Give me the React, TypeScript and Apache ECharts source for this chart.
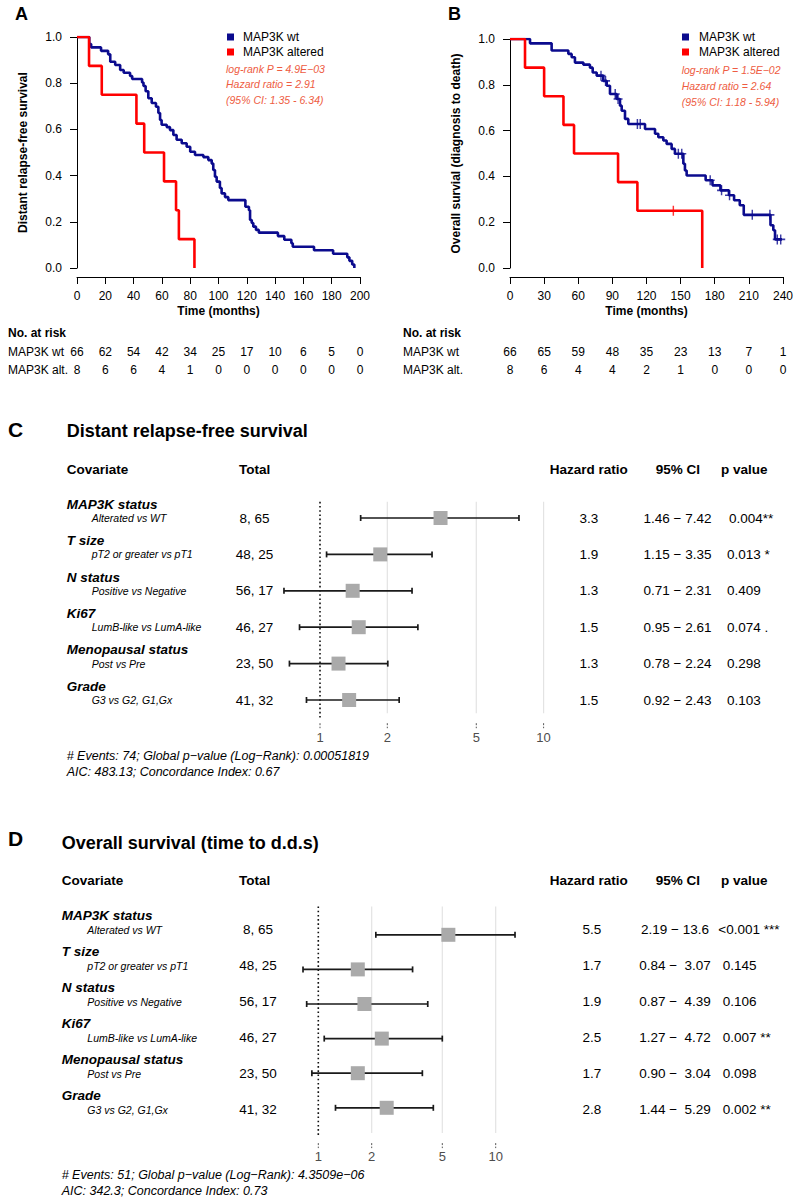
import React, { useEffect, useRef } from "react";
import * as echarts from "echarts";

const F = '"Liberation Sans", Arial, Helvetica, sans-serif';
const BLUE = "#0B0B8E";
const RED = "#FF0000";
const NOTE = "#EE5C42";

// ---------- Panel A: distant relapse-free survival (Kaplan-Meier steps: [month, survival]) ----------
const drfsWtSteps: [number, number][] = [
  [0, 1], [8.7, 0.97], [10, 0.955], [17, 0.94], [22, 0.925], [23.5, 0.893], [27, 0.879],
  [30.5, 0.857], [33, 0.845], [37.5, 0.831], [39, 0.818], [46, 0.803], [47, 0.788],
  [48.5, 0.765], [50.4, 0.735], [52.8, 0.714], [55.8, 0.698], [57.5, 0.671], [58.7, 0.641],
  [59.8, 0.62], [63.4, 0.61], [65.7, 0.597], [68.1, 0.576], [70.4, 0.555], [74, 0.54],
  [77.5, 0.525], [80, 0.503], [83.4, 0.489], [89.3, 0.48], [92.8, 0.467], [95.2, 0.452],
  [96.3, 0.424], [97.5, 0.395], [98.7, 0.374], [101, 0.346], [102.2, 0.323], [104.6, 0.307],
  [106.9, 0.294], [119, 0.265], [121.5, 0.25], [122.3, 0.208], [123.5, 0.195], [124.6, 0.179],
  [126.5, 0.165], [128.5, 0.153], [142, 0.138], [146.5, 0.122], [151.5, 0.107], [152.5, 0.092],
  [167.5, 0.077], [181, 0.062], [191, 0.046], [192.5, 0.031], [194.5, 0.015], [196, 0],
];
const drfsAltSteps: [number, number][] = [
  [0, 1], [8.5, 0.875], [17.5, 0.75], [42, 0.625], [47.5, 0.5], [61.5, 0.375], [70, 0.25], [72, 0.125], [83, 0],
];
const drfsTicks = [0, 20, 40, 60, 80, 100, 120, 140, 160, 180, 200];
const drfsRiskWt = [66, 62, 54, 42, 34, 25, 17, 10, 6, 5, 0];
const drfsRiskAlt = [8, 6, 6, 4, 1, 0, 0, 0, 0, 0, 0];

// ---------- Panel B: overall survival ----------
const osWtSteps: [number, number][] = [
  [0, 1], [17.6, 0.981], [36.6, 0.95], [51.3, 0.935], [54.2, 0.92], [57.1, 0.897], [64.5, 0.888],
  [70.3, 0.875], [72.7, 0.854], [76.2, 0.84], [82, 0.817], [85, 0.796], [87.9, 0.76],
  [93.8, 0.738], [96.7, 0.709], [98.2, 0.687], [101.1, 0.651], [104, 0.629], [118.7, 0.607],
  [127.5, 0.586], [130.4, 0.571], [134.8, 0.557], [137.7, 0.542], [142.1, 0.52], [145, 0.499],
  [152.4, 0.455], [153.8, 0.426], [155.3, 0.404], [172, 0.383], [178, 0.361], [185, 0.339],
  [192.5, 0.318], [197, 0.296], [202, 0.274], [205.5, 0.232], [229, 0.187], [231.5, 0.165],
  [233, 0.125], [239, 0.125],
];
const osAltSteps: [number, number][] = [
  [0, 1], [13.2, 0.875], [30, 0.75], [47, 0.625], [56.3, 0.5], [95, 0.375], [112, 0.25], [169, 0],
];
const osWtCensor = [80, 84, 92.5, 95, 112, 114.5, 148, 151, 176, 186, 193, 213, 228.5, 235, 238];
const osAltCensor = [143.6];
const osTicks = [0, 30, 60, 90, 120, 150, 180, 210, 240];
const osRiskWt = [66, 65, 59, 48, 35, 23, 13, 7, 1];
const osRiskAlt = [8, 6, 4, 4, 2, 1, 0, 0, 0];

// ---------- Forest plots ----------
const covariates = ["MAP3K status", "T size", "N status", "Ki67", "Menopausal status", "Grade"];
const contrasts = ["Alterated vs WT", "pT2 or greater vs pT1", "Positive vs Negative", "LumB-like vs LumA-like", "Post vs Pre", "G3 vs G2, G1,Gx"];
const totals = ["8, 65", "48, 25", "56, 17", "46, 27", "23, 50", "41, 32"];
const forestTicks = [1, 2, 5, 10];

const drfsHR = [3.46, 1.86, 1.4, 1.49, 1.21, 1.35];
const drfsLo = [1.52, 1.07, 0.69, 0.81, 0.73, 0.87];
const drfsHi = [7.76, 3.17, 2.58, 2.74, 2.01, 2.26];
const drfsHRText = ["3.3", "1.9", "1.3", "1.5", "1.3", "1.5"];
const drfsCIText = ["1.46 − 7.42", "1.15 − 3.35", "0.71 − 2.31", "0.95 − 2.61", "0.78 − 2.24", "0.92 − 2.43"];
const drfsPText = ["0.004**", "0.013 *", "0.409", "0.074 .", "0.298", "0.103"];

const osHR = [5.41, 1.67, 1.82, 2.28, 1.67, 2.43];
const osLo = [2.11, 0.82, 0.86, 1.08, 0.92, 1.25];
const osHi = [12.85, 3.4, 4.14, 5.0, 3.86, 4.45];
const osHRText = ["5.5", "1.7", "1.9", "2.5", "1.7", "2.8"];
const osCIText = ["2.19 − 13.6", "0.84 −  3.07", "0.87 −  4.39", "1.27 −  4.72", "0.90 −  3.04", "1.44 −  5.29"];
const osPText = ["<0.001 ***", "0.145", "0.106", "0.007 **", "0.098", "0.002 **"];

// ---------- helpers ----------
function survAt(steps: [number, number][], t: number) {
  let v = steps[0][1];
  for (const [x, s] of steps) if (x <= t) v = s;
  return v;
}

function txt(text: string, x: number, y: number, font: string, align = "left", fill = "#000") {
  return {
    type: "text", x, y, silent: true,
    style: { text, font, fill, textAlign: align, textVerticalAlign: "middle" },
  };
}

const PLUS = "path://M4.2,0H5.8V4.2H10V5.8H5.8V10H4.2V5.8H0V4.2H4.2Z";

function kmAxes(grid: number, max: number, interval: number, yName: string) {
  const lbl = { fontFamily: F, fontSize: 12, color: "#000" };
  return {
    x: {
      gridIndex: grid, type: "value", min: 0, max, interval, offset: 9,
      axisLine: { onZero: false, lineStyle: { color: "#000", width: 1 } },
      axisTick: { length: 7, lineStyle: { color: "#000" } },
      axisLabel: { ...lbl, margin: 13 },
      splitLine: { show: false },
      name: "Time (months)", nameLocation: "middle", nameGap: 28,
      nameTextStyle: { fontFamily: F, fontSize: 12, fontWeight: "bold", color: "#000" },
    },
    y: {
      gridIndex: grid, type: "value", min: 0, max: 1, interval: 0.2,
      axisLine: { show: true, lineStyle: { color: "#000", width: 1 } },
      axisTick: { show: true, length: 7, lineStyle: { color: "#000" } },
      axisLabel: { ...lbl, margin: 15, formatter: (v: number) => v.toFixed(1) },
      splitLine: { show: false },
      name: yName, nameLocation: "middle", nameGap: 48,
      nameTextStyle: { fontFamily: F, fontSize: 12, fontWeight: "bold", color: "#000" },
    },
  };
}

function riskSeries(axis: number, ticks: number[], wt: number[], alt: number[]) {
  const data: number[][] = [];
  ticks.forEach((t, i) => { data.push([t, 0, wt[i]]); data.push([t, 1, alt[i]]); });
  return {
    type: "custom", xAxisIndex: axis, yAxisIndex: axis, data, encode: { x: 0, y: 1 },
    renderItem: (_p: any, api: any) => {
      const c = api.coord([api.value(0), api.value(1)]);
      return {
        type: "text", x: c[0], y: c[1], silent: true,
        style: { text: String(api.value(2)), font: `12px ${F}`, fill: "#000", textAlign: "center", textVerticalAlign: "middle" },
      };
    },
  };
}

function forestSeries(axis: number, hr: number[], lo: number[], hi: number[], g: { gTop: number; gBot: number; dBot: number; tickTop: number; labelY: number }) {
  const gridLines = {
    type: "custom", xAxisIndex: axis, yAxisIndex: axis, z: 1,
    data: forestTicks.filter((t) => t !== 1).map((t) => [t, 0]), encode: { x: 0, y: 1 },
    renderItem: (p: any, api: any) => {
      const cs = p.coordSys;
      const x = api.coord([api.value(0), 0])[0];
      return { type: "line", silent: true, shape: { x1: x, y1: cs.y + g.gTop, x2: x, y2: cs.y + cs.height + g.gBot }, style: { stroke: "#E3E3E3", lineWidth: 1.2 } };
    },
  };
  const refLine = {
    type: "custom", xAxisIndex: axis, yAxisIndex: axis, z: 2,
    data: [[1, 0]], encode: { x: 0, y: 1 },
    renderItem: (p: any, api: any) => {
      const cs = p.coordSys;
      const x = api.coord([api.value(0), 0])[0];
      return { type: "line", silent: true, shape: { x1: x, y1: cs.y + g.gTop, x2: x, y2: cs.y + cs.height + g.dBot }, style: { stroke: "#111", lineWidth: 1.6, lineDash: [1.6, 2.6] } };
    },
  };
  const ticks = {
    type: "custom", xAxisIndex: axis, yAxisIndex: axis, z: 2,
    data: forestTicks.map((t) => [t, 0]), encode: { x: 0, y: 1 },
    renderItem: (p: any, api: any) => {
      const cs = p.coordSys;
      const x = api.coord([api.value(0), 0])[0];
      const b = cs.y + cs.height;
      return {
        type: "group", silent: true, children: [
          { type: "line", shape: { x1: x, y1: b + g.tickTop, x2: x, y2: b + g.tickTop + 5 }, style: { stroke: "#555", lineWidth: 1, lineDash: [2, 1.5] } },
          { type: "text", x, y: b + g.labelY, style: { text: String(api.value(0)), font: `13px ${F}`, fill: "#4D4D4D", textAlign: "center", textVerticalAlign: "middle" } },
        ],
      };
    },
  };
  const bars = {
    type: "custom", xAxisIndex: axis, yAxisIndex: axis, z: 3,
    data: hr.map((h, i) => [h, lo[i], hi[i], i]), encode: { x: [0, 1, 2], y: 3 },
    renderItem: (_p: any, api: any) => {
      const row = api.value(3);
      const m = api.coord([api.value(0), row]);
      const l = api.coord([api.value(1), row]);
      const h = api.coord([api.value(2), row]);
      const y = m[1];
      const st = { stroke: "#1A1A1A", lineWidth: 1.7 };
      return {
        type: "group", silent: true, children: [
          { type: "line", shape: { x1: l[0], y1: y, x2: h[0], y2: y }, style: st },
          { type: "line", shape: { x1: l[0], y1: y - 3, x2: l[0], y2: y + 3 }, style: st },
          { type: "line", shape: { x1: h[0], y1: y - 3, x2: h[0], y2: y + 3 }, style: st },
          { type: "rect", shape: { x: m[0] - 7, y: y - 7, width: 14, height: 14 }, style: { fill: "#AAAAAA" } },
        ],
      };
    },
  };
  return [gridLines, refLine, ticks, bars];
}

function forestTexts(o: {
  letterY: number; title: string; titleX: number; titleY: number; headY: number; labX: number; subX: number;
  groupY: number; subY: number; pitch: number; totX: number; valY: number; hrX: number; ciX: number; pX: number; pX0: number;
  hrText: string[]; ciText: string[]; pText: string[]; notes: string[]; noteY: number; letter: string;
}) {
  const els: any[] = [];
  els.push(txt(o.letter, 8, o.letterY, `bold 21px ${F}`));
  els.push(txt(o.title, o.titleX, o.titleY, `bold 18px ${F}`));
  const hf = `bold 13.5px ${F}`;
  els.push(txt("Covariate", o.labX, o.headY, hf));
  els.push(txt("Total", 239, o.headY, hf));
  els.push(txt("Hazard ratio", 549.7, o.headY, hf));
  els.push(txt("95% CI", 655.7, o.headY, hf));
  els.push(txt("p value", 721, o.headY, hf));
  covariates.forEach((c, i) => {
    els.push(txt(c, o.labX, o.groupY + o.pitch * i, `italic bold 13.5px ${F}`));
    els.push(txt(contrasts[i], o.subX, o.subY + o.pitch * i, `italic 10.5px ${F}`));
    const vy = o.valY + o.pitch * i;
    els.push(txt(totals[i], o.totX, vy, `13.5px ${F}`, "center"));
    els.push(txt(o.hrText[i], o.hrX, vy, `13.5px ${F}`, "center"));
    els.push(txt(o.ciText[i], o.ciX, vy, `13.5px ${F}`, "center"));
    els.push(txt(o.pText[i], i === 0 ? o.pX0 : o.pX, vy, `13.5px ${F}`));
  });
  o.notes.forEach((n, i) => els.push(txt(n, o.labX, o.noteY + 15.5 * i, `italic 12.5px ${F}`)));
  return els;
}

function kmTexts(letterX: number, sqX: number, legX: number, noteX: number, noteY: number[], notes: string[], riskX: number) {
  return [
    txt(letterX === 15 ? "A" : "B", letterX, 13.5, `bold 18px ${F}`),
    { type: "rect", silent: true, shape: { x: sqX, y: 33.5, width: 7, height: 7 }, style: { fill: BLUE } },
    { type: "rect", silent: true, shape: { x: sqX, y: 48.5, width: 7, height: 7 }, style: { fill: RED } },
    txt("MAP3K wt", legX, 37, `12px ${F}`),
    txt("MAP3K altered", legX, 52, `12px ${F}`),
    ...notes.map((n, i) => txt(n, noteX, noteY[i], `italic 10.5px ${F}`, "left", NOTE)),
    txt("No. at risk", riskX, 333, `bold 12px ${F}`),
    txt("MAP3K wt", riskX, 352, `12px ${F}`),
    txt("MAP3K alt.", riskX, 370, `12px ${F}`),
  ];
}

export default function App() {
  const ref = useRef<HTMLDivElement>(null);
  useEffect(() => {
    const chart = echarts.init(ref.current!, null, { renderer: "svg" });
    const a = kmAxes(0, 200, 20, "Distant relapse-free survival");
    const b = kmAxes(1, 240, 30, "Overall survial (diagnosis to death)");
    const hidden = (grid: number, type: string, extra: any = {}) => ({ gridIndex: grid, type, show: false, ...extra });

    const option: any = {
      animation: false,
      backgroundColor: "#fff",
      textStyle: { fontFamily: F },
      grid: [
        { left: 77, top: 37, width: 283, height: 231 },
        { left: 510, top: 39, width: 273, height: 229 },
        { left: 77, top: 343, width: 283, height: 36 },
        { left: 510, top: 343, width: 273, height: 36 },
        { left: 96.4, top: 499.8, width: 670.8, height: 218.4 },
        { left: 140.9, top: 917.5, width: 532.2, height: 207.6 },
      ],
      xAxis: [
        a.x, b.x,
        hidden(2, "value", { min: 0, max: 200 }),
        hidden(3, "value", { min: 0, max: 240 }),
        hidden(4, "log", { logBase: 10, min: 0.1, max: 100 }),
        hidden(5, "log", { logBase: 10, min: 0.1, max: 100 }),
      ],
      yAxis: [
        a.y, b.y,
        hidden(2, "category", { data: ["wt", "alt"], inverse: true }),
        hidden(3, "category", { data: ["wt", "alt"], inverse: true }),
        hidden(4, "category", { data: covariates, inverse: true }),
        hidden(5, "category", { data: covariates, inverse: true }),
      ],
      series: [
        { type: "line", xAxisIndex: 0, yAxisIndex: 0, step: "end", symbol: "none", data: drfsWtSteps, lineStyle: { color: BLUE, width: 2.6 }, z: 2 },
        { type: "line", xAxisIndex: 0, yAxisIndex: 0, step: "end", symbol: "none", data: drfsAltSteps, lineStyle: { color: RED, width: 2.6 }, z: 3 },
        { type: "line", xAxisIndex: 1, yAxisIndex: 1, step: "end", symbol: "none", data: osWtSteps, lineStyle: { color: BLUE, width: 2.6 }, z: 2 },
        { type: "line", xAxisIndex: 1, yAxisIndex: 1, step: "end", symbol: "none", data: osAltSteps, lineStyle: { color: RED, width: 2.6 }, z: 3 },
        { type: "scatter", xAxisIndex: 1, yAxisIndex: 1, symbol: PLUS, symbolSize: [9, 10], data: osWtCensor.map((t) => [t, survAt(osWtSteps, t)]), itemStyle: { color: BLUE }, z: 4 },
        { type: "scatter", xAxisIndex: 1, yAxisIndex: 1, symbol: PLUS, symbolSize: [9, 10], data: osAltCensor.map((t) => [t, survAt(osAltSteps, t)]), itemStyle: { color: RED }, z: 4 },
        riskSeries(2, drfsTicks, drfsRiskWt, drfsRiskAlt),
        riskSeries(3, osTicks, osRiskWt, osRiskAlt),
        ...forestSeries(4, drfsHR, drfsLo, drfsHi, { gTop: 2, gBot: -5, dBot: 0, tickTop: 5, labelY: 19 }),
        ...forestSeries(5, osHR, osLo, osHi, { gTop: -11, gBot: 8, dBot: 10, tickTop: 18, labelY: 31 }),
      ],
      graphic: [
        ...kmTexts(15, 227, 243, 226, [68.5, 84, 100], ["log-rank P = 4.9E−03", "Hazard ratio = 2.91", "(95% CI: 1.35 - 6.34)"], 8),
        ...kmTexts(448, 682, 699, 681.7, [70, 86, 101.7], ["log-rank P = 1.5E−02", "Hazard ratio = 2.64", "(95% CI: 1.18 - 5.94)"], 403),
        ...forestTexts({
          letter: "C", letterY: 429, title: "Distant relapse-free survival", titleX: 66.7, titleY: 431,
          headY: 469, labX: 66.7, subX: 91.7, groupY: 504.3, subY: 518, pitch: 36.4, totX: 254.5, valY: 518,
          hrX: 589, ciX: 677.5, pX: 727, pX0: 729, hrText: drfsHRText, ciText: drfsCIText, pText: drfsPText,
          notes: ["# Events: 74; Global p−value (Log−Rank): 0.00051819", "AIC: 483.13; Concordance Index: 0.67"], noteY: 756,
        }),
        ...forestTexts({
          letter: "D", letterY: 838, title: "Overall survival (time to d.d.s)", titleX: 61.7, titleY: 843.3,
          headY: 880, labX: 61.7, subX: 87.3, groupY: 915, subY: 930, pitch: 36, totX: 258, valY: 929,
          hrX: 592, ciX: 675, pX: 722.7, pX0: 718.3, hrText: osHRText, ciText: osCIText, pText: osPText,
          notes: ["# Events: 51; Global p−value (Log−Rank): 4.3509e−06", "AIC: 342.3; Concordance Index: 0.73"], noteY: 1175,
        }),
      ],
    };
    chart.setOption(option);
    return () => chart.dispose();
  }, []);
  return <div ref={ref} style={{ position: "absolute", left: 0, top: 0, width: 796, height: 1199, background: "#fff" }} />;
}
